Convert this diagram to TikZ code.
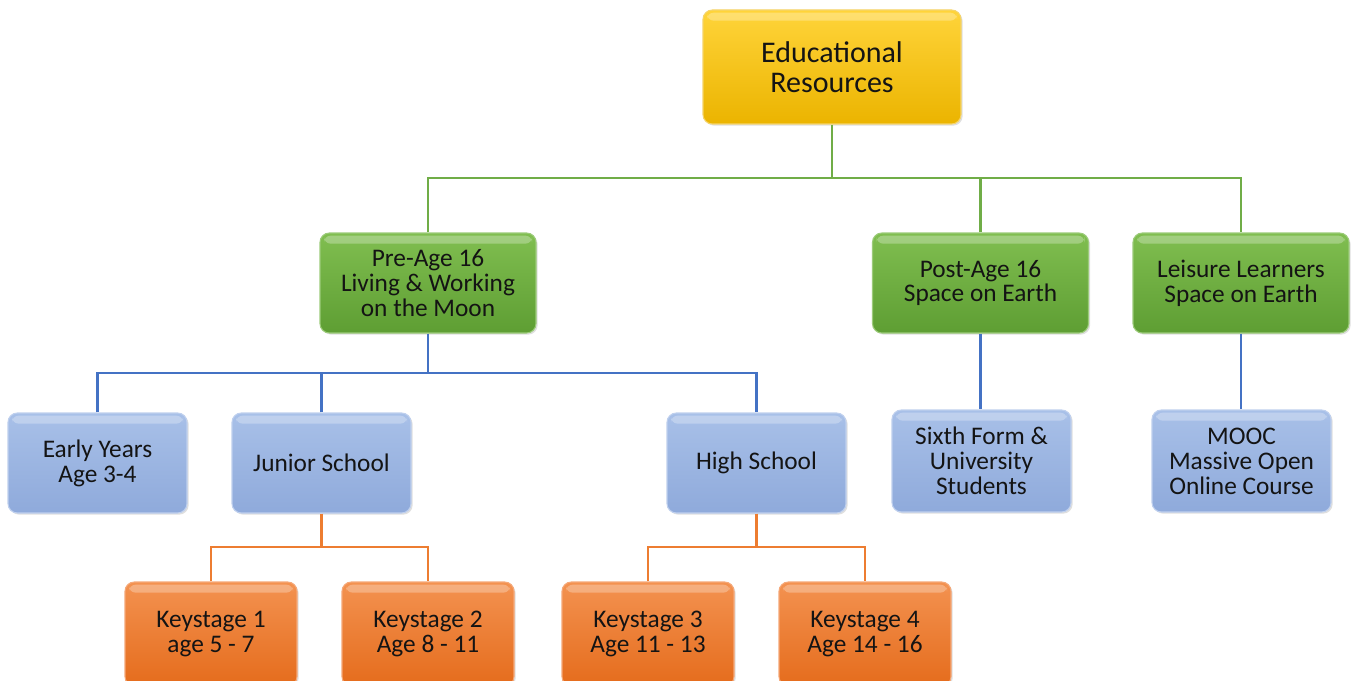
\documentclass[tikz,border=0pt]{standalone}
\usepackage{fontspec}
\setmainfont{Carlito}
\usetikzlibrary{shadows,calc}

\definecolor{linegreen}{HTML}{70AD47}
\definecolor{lineblue}{HTML}{4472C4}
\definecolor{lineorange}{HTML}{ED7D31}
\definecolor{txt}{HTML}{141414}
\definecolor{yeltop}{HTML}{FFD43A}
\definecolor{yelbot}{HTML}{EBB400}
\definecolor{yeledge}{HTML}{F5D46A}
\definecolor{grntop}{HTML}{80BE50}
\definecolor{grnbot}{HTML}{5E9E33}
\definecolor{grnedge}{HTML}{9CCB7A}
\definecolor{blutop}{HTML}{A8C0E8}
\definecolor{blubot}{HTML}{8FAADB}
\definecolor{bluedge}{HTML}{BFD0EE}
\definecolor{orgtop}{HTML}{F39250}
\definecolor{orgbot}{HTML}{E56C1C}
\definecolor{orgedge}{HTML}{F5A878}

\tikzset{
  glossy/.style n args={3}{
    rectangle, rounded corners=7pt, align=center, text=txt,
    top color=#1, bottom color=#2, draw=#3, line width=0.8pt,
    drop shadow={shadow xshift=1.2pt, shadow yshift=-1.2pt, opacity=0.25},
    path picture={
      \fill[white, opacity=0.28, rounded corners=5pt]
        ($(path picture bounding box.north west)+(3pt,-2pt)$) rectangle
        ($(path picture bounding box.north east)+(-3pt,-8pt)$);
    }
  },
  rootbox/.style={glossy={yeltop}{yelbot}{yeledge}, font=\fontsize{22.5}{22.5}\selectfont,
    minimum width=193.5pt, minimum height=85.5pt},
  greenbox/.style={glossy={grntop}{grnbot}{grnedge}, font=\fontsize{19}{18.7}\selectfont,
    minimum width=162pt, minimum height=75pt},
  bluebox/.style={glossy={blutop}{blubot}{bluedge}, font=\fontsize{19}{18.7}\selectfont,
    minimum width=134.25pt, minimum height=75pt},
  orangebox/.style={glossy={orgtop}{orgbot}{orgedge}, font=\fontsize{19}{18.7}\selectfont,
    minimum width=129pt, minimum height=78pt},
  gline/.style={draw=linegreen, line width=2pt},
  bline/.style={draw=lineblue, line width=2pt},
  oline/.style={draw=lineorange, line width=2pt},
}

\begin{document}
\begin{tikzpicture}[x=0.75pt, y=-0.75pt]
\clip (0,0) rectangle (1352,681);
\fill[white] (0,0) rectangle (1352,681);

% bus heights
\coordinate (gbus) at (0,178);
\coordinate (bbus) at (0,373);
\coordinate (obus) at (0,547);

% top level
\node[rootbox] (root) at (832,67) {Educational\\Resources};

% second level
\node[greenbox] (pre)  at (428,283)   {Pre-Age 16\\Living \& Working\\on the Moon};
\node[greenbox] (post) at (980.5,283) {Post-Age 16\\Space on Earth};
\node[greenbox] (leis) at (1241,283)  {Leisure Learners\\Space on Earth};

% third level
\node[bluebox] (early)  at (97.5,463)  {Early Years\\Age 3-4};
\node[bluebox] (junior) at (321.5,463) {Junior School};
\node[bluebox] (high)   at (756.5,463) {High School};
\node[bluebox, minimum height=76.5pt] (sixth) at (981.5,461) {Sixth Form \&\\University\\Students};
\node[bluebox, minimum height=76.5pt] (mooc)  at (1241.5,461) {MOOC\\Massive Open\\Online Course};

% keystages
\node[orangebox] (ks1) at (211,634) {Keystage 1\\age 5 - 7};
\node[orangebox] (ks2) at (428,634) {Keystage 2\\Age 8 - 11};
\node[orangebox] (ks3) at (648,634) {Keystage 3\\Age 11 - 13};
\node[orangebox] (ks4) at (865,634) {Keystage 4\\Age 14 - 16};

% green connectors
\draw[gline] (root.south) -- (root.south |- gbus);
\draw[gline] (pre.north) -- (pre.north |- gbus) -| (leis.north);
\draw[gline] (post.north) -- (post.north |- gbus);

% blue connectors
\draw[bline] (pre.south) -- (pre.south |- bbus);
\draw[bline] (early.north) -- (early.north |- bbus) -| (high.north);
\draw[bline] (junior.north) -- (junior.north |- bbus);
\draw[bline] (post.south) -- (sixth.north -| post.south);
\draw[bline] (leis.south) -- (mooc.north -| leis.south);

% orange connectors
\draw[oline] (junior.south) -- (junior.south |- obus);
\draw[oline] (ks1.north) -- (ks1.north |- obus) -| (ks2.north);
\draw[oline] (high.south) -- (high.south |- obus);
\draw[oline] (ks3.north) -- (ks3.north |- obus) -| (ks4.north);
\end{tikzpicture}
\end{document}
